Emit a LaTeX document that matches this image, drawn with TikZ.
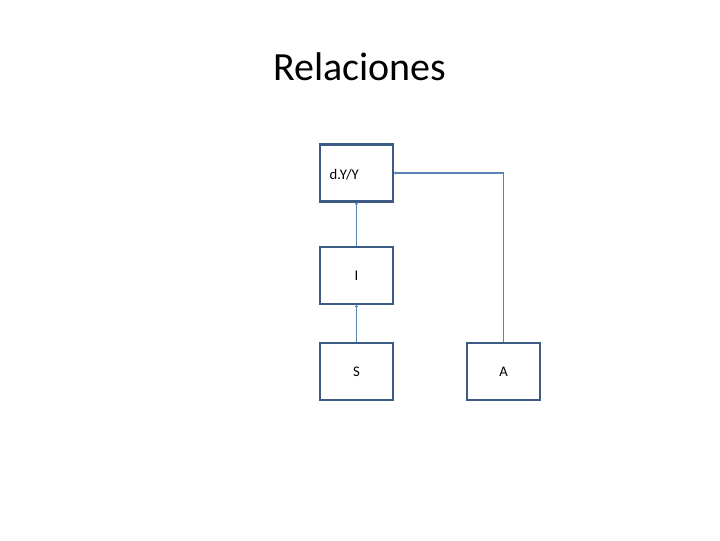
\documentclass[tikz,border=0pt]{standalone}
\usepackage{fontspec}
\setmainfont{Carlito}
\usetikzlibrary{arrows.meta,positioning}
\definecolor{boxblue}{HTML}{3B5B85}
\definecolor{lineblue}{HTML}{5A84B8}
\tikzset{
  block/.style={draw=boxblue,line width=1.6pt,minimum width=54.75pt,minimum height=42.75pt,inner sep=0pt,font=\fontsize{11}{13}\selectfont},
  link/.style={draw=lineblue,line width=0.9pt,-{Circle[length=2pt]}}
}
\begin{document}
\begin{tikzpicture}[x=0.75pt,y=-0.75pt]
\useasboundingbox (0,0) rectangle (720,540);
\node (title) at (360,67) {\fontsize{30}{36}\selectfont Relaciones};
\node[block] (dyy) at (356.5,173) {};
\node[anchor=west,font=\fontsize{11}{13}\selectfont] (dyylab) at (325,175) {d.Y/Y};
\node[block] (i) at (356.5,275.5) {I};
\node[block] (s) at (356.5,371.5) {S};
\node[block] (a) at (503.5,371.5) {A};
\coordinate (corner) at (a.north |- dyy.east);
\draw[link] (s) -- (i);
\draw[link] (i) -- (dyy);
\draw[link] (a) -- (corner) -- (dyy.east);
\end{tikzpicture}
\end{document}
